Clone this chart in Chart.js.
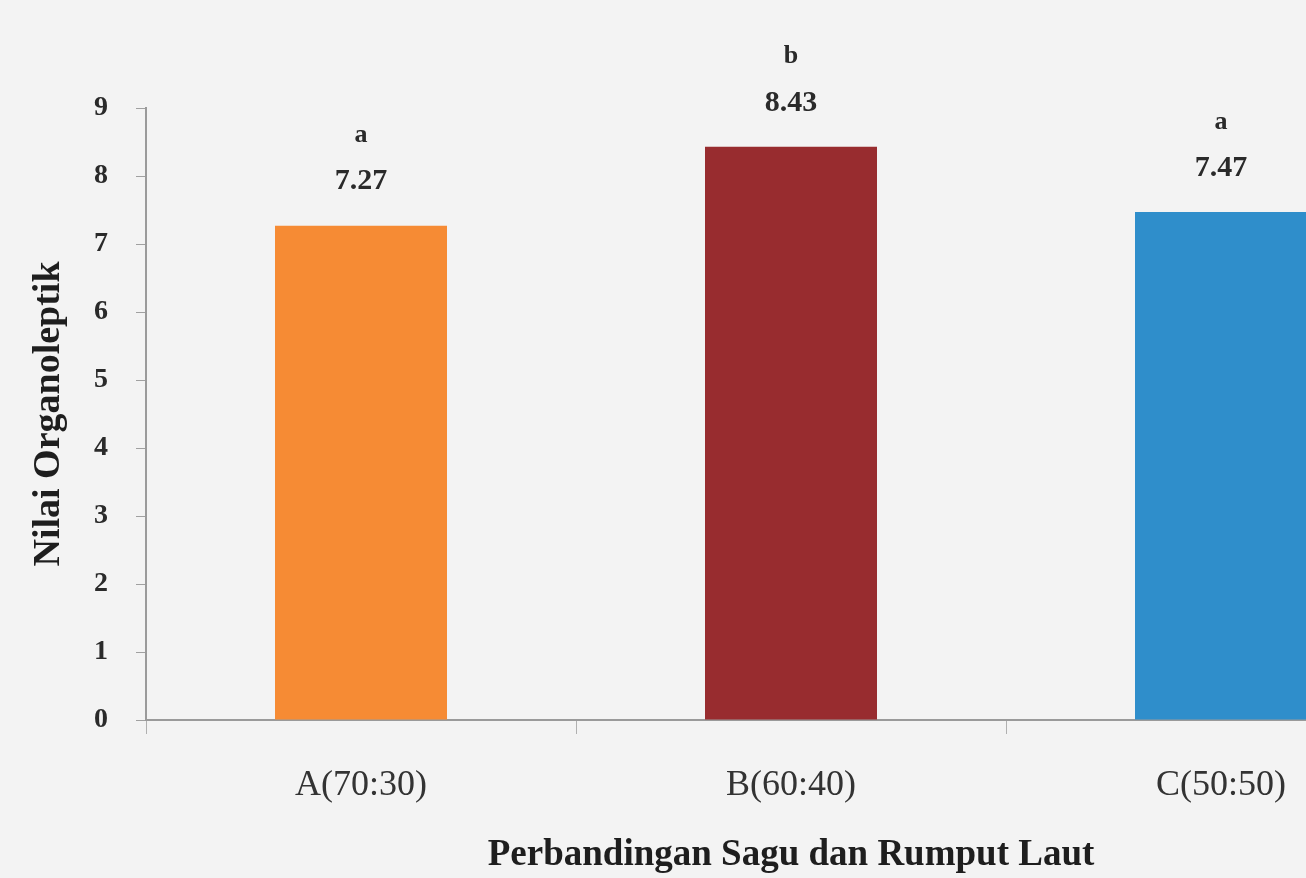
<!DOCTYPE html>
<html>
<head>
<meta charset="utf-8">
<script src="https://cdn.jsdelivr.net/npm/chart.js@4.4.1/dist/chart.umd.min.js"></script>
<style>
  html, body { margin: 0; padding: 0; background: #f3f3f3; overflow: hidden; }
  #wrap { position: relative; width: 1440px; height: 878px; }
</style>
</head>
<body>
<div id="wrap"><canvas id="c" width="1440" height="878"></canvas></div>
<script>
const categories = ["A(70:30)", "B(60:40)", "C(50:50)"];
const values = [7.27, 8.43, 7.47];
const notations = ["a", "b", "a"];
const barColors = ["#f68b34", "#982c2f", "#2f8ecb"];
const yTicks = [0, 1, 2, 3, 4, 5, 6, 7, 8, 9];
const yTitle = "Nilai Organoleptik";
const xTitle = "Perbandingan Sagu dan Rumput Laut";

const serif = "'Liberation Serif', 'Times New Roman', serif";

const labelPlugin = {
  id: 'barLabels',
  afterDatasetsDraw(chart) {
    const ctx = chart.ctx;
    const meta = chart.getDatasetMeta(0);
    ctx.save();
    ctx.fillStyle = '#2a2a2a';
    ctx.textAlign = 'center';
    ctx.textBaseline = 'middle';
    meta.data.forEach((bar, i) => {
      ctx.font = "bold 30px " + serif;
      ctx.fillText(values[i].toFixed(2), bar.x, bar.y - 44);
      ctx.font = "bold 26px " + serif;
      ctx.fillText(notations[i], bar.x, bar.y - 90);
    });
    ctx.restore();
  }
};

new Chart(document.getElementById('c'), {
  type: 'bar',
  data: {
    labels: categories,
    datasets: [{
      data: values,
      backgroundColor: barColors,
      borderWidth: 0,
      barPercentage: 0.4,
      categoryPercentage: 1.0
    }]
  },
  options: {
    responsive: false,
    animation: false,
    layout: { padding: { top: 108, right: 4, left: 0, bottom: 0 } },
    plugins: { legend: { display: false }, tooltip: { enabled: false } },
    scales: {
      x: {
        offset: true,
        grid: { display: true, drawOnChartArea: false, offset: true, tickLength: 14, color: '#b0b0b0' },
        border: { display: true, color: '#9a9a9a', width: 2 },
        ticks: { color: '#333333', font: { family: serif, size: 36 }, padding: 30 },
        title: { display: true, text: xTitle, color: '#1e1e1e', font: { family: serif, size: 37, weight: 'bold' }, padding: { top: 24, bottom: 0 } },
        afterFit(scale) { scale.height = 158; }
      },
      y: {
        min: 0, max: 9,
        afterBuildTicks(scale) { scale.ticks = yTicks.map(v => ({ value: v })); },
        grid: { display: true, drawOnChartArea: false, tickLength: 10, color: '#a0a0a0' },
        border: { display: true, color: '#9a9a9a', width: 2 },
        ticks: { color: '#2a2a2a', font: { family: serif, size: 28, weight: 'bold' }, padding: 28 },
        title: { display: true, text: yTitle, color: '#1e1e1e', font: { family: serif, size: 38, weight: 'bold' }, padding: { top: 26, bottom: 0 } },
        afterFit(scale) { scale.width = 146; }
      }
    }
  },
  plugins: [labelPlugin]
});
</script>
</body>
</html>
